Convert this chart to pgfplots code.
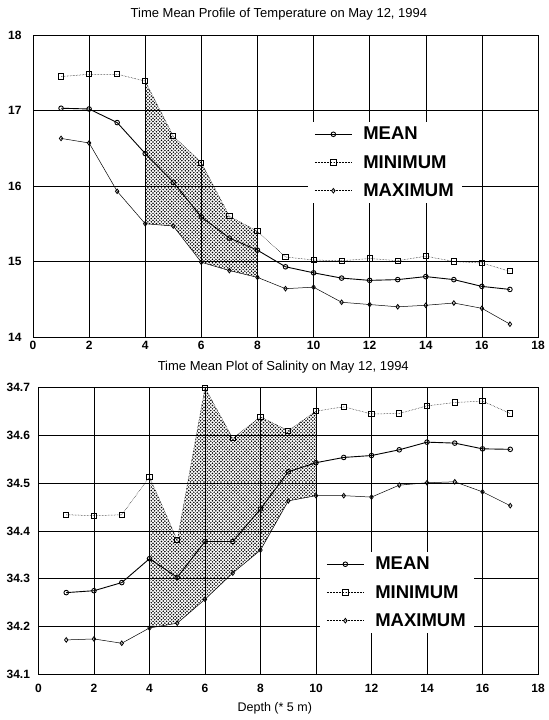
\documentclass[border=0pt]{standalone}
\usepackage{pgfplots}
\pgfplotsset{compat=1.18}
\usetikzlibrary{patterns}
\usepackage{fontspec}
\setmainfont{Liberation Sans}

\pgfdeclarepatternformonly{bigdots}{\pgfqpoint{-1pt}{-1pt}}{\pgfqpoint{4.4pt}{4.4pt}}{\pgfqpoint{3.4pt}{3.4pt}}{%
  \pgfpathcircle{\pgfqpoint{0pt}{0pt}}{0.85pt}%
  \pgfpathcircle{\pgfqpoint{1.7pt}{1.7pt}}{0.85pt}%
  \pgfusepath{fill}}

\pgfplotstableread{
x mean min max
1 17.03 17.45 16.63
2 17.02 17.48 16.57
3 16.84 17.48 15.93
4 16.43 17.39 15.50
5 16.05 16.66 15.47
6 15.59 16.31 14.99
7 15.31 15.60 14.88
8 15.15 15.40 14.79
9 14.93 15.06 14.64
10 14.85 15.02 14.66
11 14.78 15.01 14.46
12 14.75 15.04 14.43
13 14.76 15.01 14.40
14 14.80 15.07 14.42
15 14.76 15.00 14.45
16 14.67 14.98 14.38
17 14.63 14.87 14.17
}\temptable

\pgfplotstableread{
x mean min max
1 34.271 34.434 34.172
2 34.275 34.432 34.174
3 34.292 34.434 34.165
4 34.342 34.513 34.197
5 34.303 34.381 34.207
6 34.378 34.700 34.257
7 34.378 34.594 34.312
8 34.446 34.639 34.360
9 34.524 34.610 34.463
10 34.543 34.651 34.474
11 34.554 34.660 34.474
12 34.558 34.645 34.471
13 34.570 34.646 34.496
14 34.586 34.662 34.501
15 34.584 34.669 34.503
16 34.572 34.672 34.482
17 34.571 34.646 34.453
}\saltable

\pgfplotsset{
  chart/.style={
    scale only axis,
    xmin=0, xmax=18, xtick={0,2,...,18},
    grid=major, grid style={black, line width=0.55pt},
    axis line style={line width=0.9pt},
    major tick length=0pt,
    tick label style={font=\bfseries\fontsize{12}{12}\selectfont},
    /pgf/number format/assume math mode=true,
    title style={font=\fontsize{13}{13}\selectfont, anchor=center},
    legend cell align=left,
    legend style={draw=none, fill=white, font=\bfseries\fontsize{18.5}{18.5}\selectfont,
      inner xsep=6pt, inner ysep=3pt, row sep=10pt,
      /tikz/every odd column/.append style={column sep=9pt}},
    legend image code/.code={\draw[mark repeat=2,mark phase=2,##1] plot coordinates {(0cm,0cm) (0.65cm,0cm) (1.3cm,0cm)};},
  },
  meanst/.style={black, line width=0.9pt, mark=o, mark size=2.3pt, mark options={solid, fill=white, line width=0.9pt}},
  minst/.style={black, line width=0.5pt, densely dotted, mark=square, mark size=2.6pt, mark options={solid, fill=white, line width=0.9pt}},
  maxst/.style={black, line width=0.5pt, mark=diamond, mark size=2.3pt, mark options={solid, fill=white, line width=0.8pt}, legend image post style={densely dotted}},
}

\begin{document}
\begin{tikzpicture}
\path (0,0) rectangle (544pt,720pt);

% Top: temperature
\begin{axis}[chart,
  at={(33pt,383pt)}, anchor=south west,
  width=505pt, height=302pt,
  ymin=14, ymax=18, ytick={14,15,...,18},
  yticklabel style={xshift=-8pt},
  xticklabel style={yshift=-1pt},
  title={Time Mean Profile of Temperature on May 12, 1994},
  title style={at={(0.487,1)}, yshift=15pt},
  legend style={at={(0.545,0.712)}, anchor=north west},
]
\addplot[pattern=bigdots, draw=none, forget plot] coordinates {
  (4,17.39) (5,16.66) (6,16.31) (7,15.60) (8,15.40)
  (8,14.79) (7,14.88) (6,14.99) (5,15.47) (4,15.50)} -- cycle;
\addplot[meanst] table[x=x, y=mean] {\temptable};
\addlegendentry{MEAN}
\addplot[minst] table[x=x, y=min] {\temptable};
\addlegendentry{MINIMUM}
\addplot[maxst] table[x=x, y=max] {\temptable};
\addlegendentry{MAXIMUM}
\end{axis}

% Bottom: salinity
\begin{axis}[chart,
  at={(38.5pt,45.7pt)}, anchor=south west,
  width=499.5pt, height=286.6pt,
  ymin=34.1, ymax=34.7, ytick={34.1,34.2,...,34.71},
  yticklabel style={/pgf/number format/fixed, /pgf/number format/precision=1, /pgf/number format/fixed zerofill, xshift=-5pt},
  xticklabel style={yshift=-6pt},
  title={Time Mean Plot of Salinity on May 12, 1994},
  title style={at={(0.49,1)}, yshift=15pt},
  xlabel={Depth (* 5 m)},
  xlabel style={font=\fontsize{12.5}{13}\selectfont, at={(0.473,0)}, anchor=center, yshift=-34pt},
  legend style={at={(0.564,0.427)}, anchor=north west},
]
\addplot[pattern=bigdots, draw=none, forget plot] coordinates {
  (4,34.513) (5,34.381) (6,34.700) (7,34.594) (8,34.639) (9,34.610) (10,34.651)
  (10,34.474) (9,34.463) (8,34.360) (7,34.312) (6,34.257) (5,34.207) (4,34.197)} -- cycle;
\addplot[meanst] table[x=x, y=mean] {\saltable};
\addlegendentry{MEAN}
\addplot[minst] table[x=x, y=min] {\saltable};
\addlegendentry{MINIMUM}
\addplot[maxst] table[x=x, y=max] {\saltable};
\addlegendentry{MAXIMUM}
\end{axis}
\end{tikzpicture}
\end{document}
